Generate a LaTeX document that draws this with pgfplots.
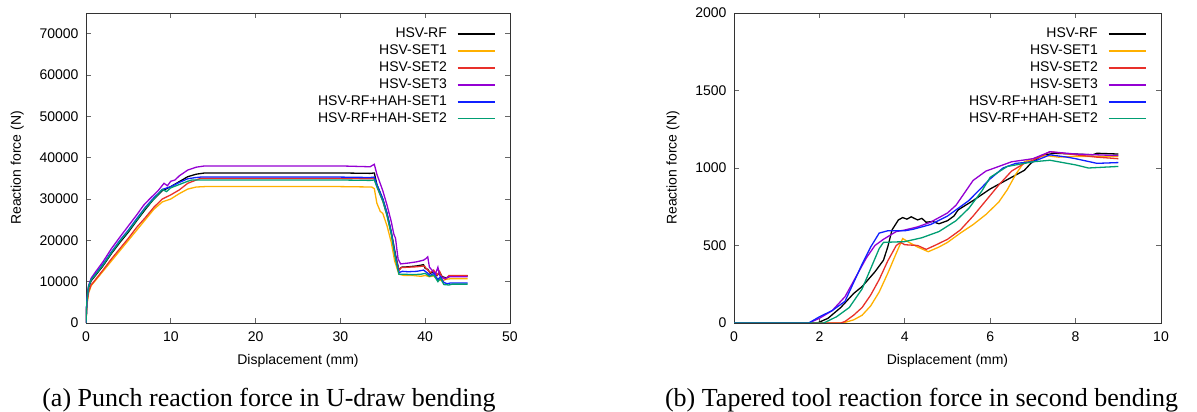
\documentclass[border=0pt]{standalone}
\usepackage{fontspec}
\setmainfont{Liberation Serif}
\setsansfont{Liberation Sans}
\usepackage{pgfplots}
\pgfplotsset{compat=1.18}

\definecolor{cset1}{HTML}{FFB000}
\definecolor{cset2}{HTML}{E8302A}
\definecolor{cset3}{HTML}{9400D3}
\definecolor{chah1}{HTML}{1020FF}
\definecolor{chah2}{HTML}{009E73}

\pgfplotsset{
  lg/.style={draw=#1, legend image code/.code={\draw[draw=#1, line width=1.5pt] (0pt,0pt) -- (37pt,0pt);}},
  gp/.style={
    scale only axis,
    height=310pt,
    axis line style={black!80, line width=0.8pt},
    tick style={black!60, line width=0.8pt},
    major tick length=5pt,
    tick align=inside,
    scaled ticks=false,
    font=\sffamily\fontsize{14}{16}\selectfont,
    /pgf/number format/assume math mode=true,
    /pgf/number format/1000 sep={},
    yticklabel style={xshift=-4pt},
    xticklabel style={yshift=-5pt},
    ylabel style={yshift=9pt},
    xlabel style={yshift=-6pt},
    ylabel={Reaction force (N)},
    xlabel={Displacement (mm)},
    legend cell align=right,
    legend plot pos=right,
    legend style={draw=none, fill=none, anchor=north east,
      at={(0.966,0.958)}, inner sep=0pt, row sep=1.7pt, column sep=8pt,
      font=\sffamily\fontsize{14}{16}\selectfont},
    every axis plot/.append style={line width=1.3pt},
  },
}

\begin{document}
\begin{tikzpicture}
\path[use as bounding box] (0,0) rectangle (1197pt,412pt);

% (a) U-draw bending
\begin{axis}[gp, at={(86pt,89pt)}, anchor=south west, width=424pt,
  xmin=0, xmax=50, ymin=0, ymax=75000,
  xtick={0,10,...,50}, ytick={0,10000,...,70000}]
\addplot[lg=black] coordinates {(0,0) (0.1,5000) (0.3,8500) (0.6,10200) (1,11200) (2,13800) (3,16800) (4,19500) (5,22000) (6,24800) (7,27500) (8,30000) (9,32000) (10,33000) (11,34200) (12,35400) (13,36000) (14,36300) (20,36300) (25,36300) (30,36300) (33.5,36200) (34.0,36300) (34.3,33500) (35,30000) (35.5,26500) (36,22000) (36.5,16500) (36.9,12800) (37.2,13500) (38,13600) (39,13800) (39.8,14100) (40.0,13200) (40.3,13000) (40.6,12000) (41,12500) (41.4,11500) (41.7,12300) (42,11200) (42.5,10900) (43,11400) (45,11400)};
\addlegendentry{HSV-RF}
\addplot[lg=cset1] coordinates {(0,0) (0.1,4200) (0.3,7200) (0.6,9000) (1,10000) (2,12500) (3,15000) (4,17500) (5,20000) (6,22500) (7,25000) (8,27500) (9,29300) (10,30000) (11,31300) (12,32400) (13,32900) (14,33000) (30,33000) (33.7,32900) (34.0,32500) (34.3,29000) (34.7,27000) (35,26500) (35.5,23500) (36,19500) (36.4,15000) (36.9,11800) (37.5,11500) (38.5,11500) (39.5,11300) (40,11500) (40.5,11200) (41,11400) (41.5,10500) (42,10200) (42.5,10600) (43,10700) (45,10700)};
\addlegendentry{HSV-SET1}
\addplot[lg=cset2] coordinates {(0,0) (0.1,4500) (0.3,7500) (0.6,9200) (1,10200) (2,12800) (3,15500) (4,18000) (5,20500) (6,23200) (7,25500) (8,28000) (9,30000) (10,31000) (11,32200) (12,33800) (13,34600) (13.5,35000) (20,35000) (30,35000) (33.5,34900) (34.0,35000) (34.3,33000) (35,29500) (35.5,26000) (36,21500) (36.5,16000) (36.9,12800) (37.2,13400) (38,13500) (39,13600) (39.9,13800) (40.2,13000) (40.6,12200) (41,12800) (41.4,11600) (41.7,12500) (42,11000) (42.4,10600) (42.8,11500) (45,11500)};
\addlegendentry{HSV-SET2}
\addplot[lg=cset3] coordinates {(0,0) (0.1,5500) (0.3,9000) (0.6,10800) (1,12000) (2,14800) (3,18000) (4,20800) (5,23500) (6,26200) (6.8,28500) (7.5,30000) (8.5,32000) (9.2,33800) (9.6,33200) (10,34300) (10.5,34600) (11,35600) (12,37000) (13,37700) (14,38000) (20,38000) (30,38000) (33.5,37800) (34.0,38400) (34.3,36000) (35,32000) (35.5,28500) (36,24500) (36.3,21500) (36.5,20500) (36.8,15500) (37.1,14300) (38,14500) (39,14800) (39.8,15200) (40.1,15600) (40.3,16000) (40.5,13500) (40.8,12800) (41.2,11800) (41.5,13500) (41.7,11500) (42,11000) (42.4,10800) (42.8,11200) (45,11200)};
\addlegendentry{HSV-SET3}
\addplot[lg=chah1] coordinates {(0,0) (0.1,5300) (0.3,8800) (0.6,10500) (1,11500) (2,14200) (3,17200) (4,20000) (5,22500) (6,25300) (7,28000) (8,30300) (9,32300) (10,33000) (11,34000) (12,34900) (13,35200) (13.5,35300) (30,35300) (33.5,35200) (34.0,35300) (34.3,33500) (35,30000) (35.5,26500) (36,22000) (36.5,16000) (36.9,12200) (37.3,12500) (38,12400) (39,12500) (39.8,12800) (40.2,12200) (40.6,11500) (41,12000) (41.5,10500) (41.8,11200) (42.2,9800) (42.6,9500) (43,9700) (45,9700)};
\addlegendentry{HSV-RF+HAH-SET1}
\addplot[lg=chah2] coordinates {(0,0) (0.1,5200) (0.3,8700) (0.6,10400) (1,11400) (2,14000) (3,17000) (4,19800) (5,22300) (6,25000) (7,27800) (8,30000) (9,32300) (9.5,31800) (10,32700) (11,33500) (12,34300) (12.5,34600) (30,34600) (33.5,34500) (34.0,34600) (34.3,33000) (35,29500) (35.5,26000) (36,21500) (36.5,15500) (36.9,11800) (37.5,11800) (38.5,11700) (39.5,11800) (40,12000) (40.5,11300) (41,11600) (41.5,10000) (41.8,10800) (42.2,9300) (42.8,9200) (43.2,9400) (45,9400)};
\addlegendentry{HSV-RF+HAH-SET2}
\end{axis}

% (b) second bending
\begin{axis}[gp, at={(734pt,89pt)}, anchor=south west, width=427pt,
  xmin=0, xmax=10, ymin=0, ymax=2000,
  xtick={0,2,...,10}, ytick={0,500,...,2000}]
\addplot[lg=black] coordinates {(0,0) (1.95,0) (2.2,30) (2.5,100) (2.8,190) (3.0,235) (3.3,330) (3.5,405) (3.6,490) (3.7,600) (3.85,665) (3.95,680) (4.05,670) (4.15,685) (4.3,665) (4.4,675) (4.5,650) (4.65,655) (4.8,640) (5.0,660) (5.15,690) (5.25,730) (5.6,790) (6.0,865) (6.5,940) (6.8,985) (6.95,1030) (7.2,1080) (7.5,1095) (8.0,1090) (8.4,1085) (8.5,1095) (9,1090)};
\addlegendentry{HSV-RF}
\addplot[lg=cset1] coordinates {(0,0) (2.55,0) (2.8,20) (3.0,50) (3.2,110) (3.4,200) (3.6,320) (3.8,450) (3.95,545) (4.1,520) (4.3,490) (4.55,460) (4.8,490) (5.0,520) (5.3,580) (5.6,635) (5.9,700) (6.2,780) (6.4,860) (6.6,960) (6.8,1040) (7.0,1060) (7.3,1080) (7.6,1070) (8.0,1075) (9,1075)};
\addlegendentry{HSV-SET1}
\addplot[lg=cset2] coordinates {(0,0) (2.5,0) (2.6,10) (2.8,50) (3.0,100) (3.2,180) (3.4,280) (3.6,400) (3.8,500) (3.9,520) (4.0,505) (4.3,500) (4.5,475) (4.7,500) (5.0,540) (5.3,600) (5.6,690) (5.9,790) (6.2,890) (6.5,980) (6.8,1030) (7.0,1050) (7.4,1105) (8,1085) (8.5,1070) (9,1060)};
\addlegendentry{HSV-SET2}
\addplot[lg=cset3] coordinates {(0,0) (1.75,0) (2.0,30) (2.3,80) (2.6,170) (2.9,320) (3.1,420) (3.3,500) (3.5,540) (3.8,590) (4.0,600) (4.3,620) (4.6,650) (5.0,710) (5.2,760) (5.4,840) (5.6,920) (5.9,980) (6.2,1010) (6.5,1040) (7.0,1060) (7.4,1105) (8,1090) (9,1080)};
\addlegendentry{HSV-SET3}
\addplot[lg=chah1] coordinates {(0,0) (1.75,0) (2.0,40) (2.3,80) (2.6,140) (2.8,260) (3.0,380) (3.2,490) (3.4,580) (3.6,595) (4.0,595) (4.2,605) (4.6,635) (5.0,690) (5.5,790) (6.0,930) (6.3,1000) (6.6,1030) (7.0,1040) (7.4,1085) (7.8,1070) (8.0,1060) (8.5,1030) (9,1035)};
\addlegendentry{HSV-RF+HAH-SET1}
\addplot[lg=chah2] coordinates {(0,0) (2.1,0) (2.4,40) (2.7,100) (3.0,220) (3.2,350) (3.4,480) (3.5,520) (4.0,525) (4.4,550) (4.8,590) (5.2,660) (5.5,740) (5.8,850) (6.0,940) (6.4,1010) (7.0,1040) (7.4,1050) (8.0,1020) (8.3,1000) (9,1010)};
\addlegendentry{HSV-RF+HAH-SET2}
\end{axis}

\node[anchor=base, font=\rmfamily\fontsize{26}{30}\selectfont] at (269pt,5pt) {(a) Punch reaction force in U-draw bending};
\node[anchor=base, font=\rmfamily\fontsize{26}{30}\selectfont] at (921.5pt,5pt) {(b) Tapered tool reaction force in second bending};
\end{tikzpicture}
\end{document}
